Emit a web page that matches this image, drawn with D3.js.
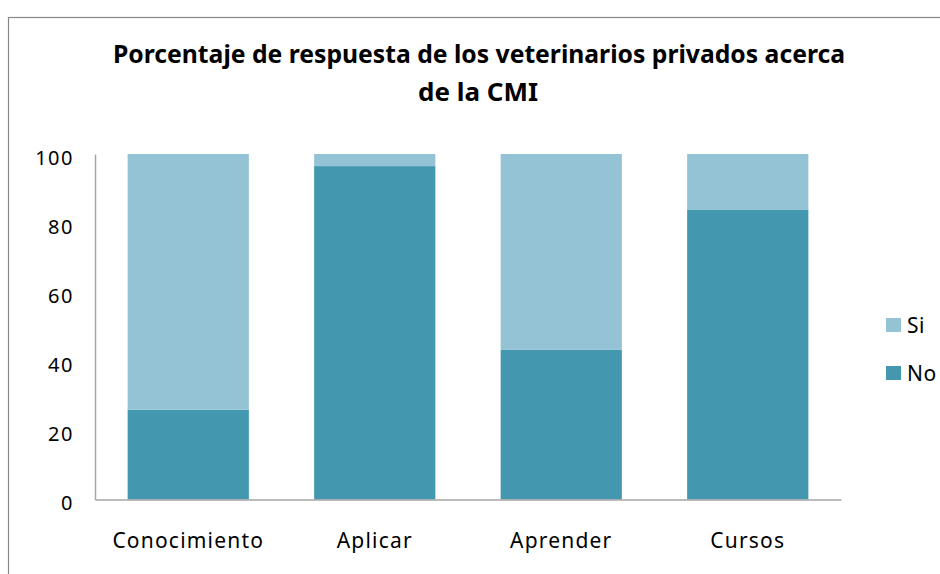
<!DOCTYPE html>
<html>
<head>
<meta charset="utf-8">
<script src="https://cdn.jsdelivr.net/npm/d3@7"></script>
<style>
  body { margin: 0; background: #fff; }
  svg text { font-family: "Noto Sans", "Open Sans", sans-serif; fill: #000; }
</style>
</head>
<body>
<div id="chart"></div>
<script>
// Data
const categories = ["Conocimiento", "Aplicar", "Aprender", "Cursos"];
const noValues = [26, 96.5, 43.3, 83.8];
const siValues = [74, 3.5, 56.7, 16.2];
const seriesNames = ["No", "Si"];
const yTicks = [0, 20, 40, 60, 80, 100];

const colors = { No: "#4398B0", Si: "#93C3D4" };

const W = 940, H = 574;
const margin = { top: 154, left: 95, right: 99, bottom: 74.5 };
const width = W - margin.left - margin.right;
const height = H - margin.top - margin.bottom;

const svg = d3.select("#chart").append("svg")
  .attr("width", W)
  .attr("height", H);

// outer border of the chart area (runs off the right and bottom edges)
svg.append("rect")
  .attr("x", 8.5).attr("y", 17.5)
  .attr("width", W).attr("height", H)
  .attr("fill", "none")
  .attr("stroke", "#888")
  .attr("stroke-width", 1.2);

// title, squeezed to the width of the original narrow font
const title = svg.append("text")
  .attr("text-anchor", "middle")
  .style("font-size", "25px")
  .style("font-weight", "bold");
title.append("tspan").attr("x", 479).attr("y", 63)
  .attr("textLength", 732).attr("lengthAdjust", "spacingAndGlyphs")
  .text("Porcentaje de respuesta de los veterinarios privados acerca");
title.append("tspan").attr("x", 478).attr("y", 101)
  .attr("textLength", 120).attr("lengthAdjust", "spacingAndGlyphs")
  .text("de la CMI");

const g = svg.append("g")
  .attr("transform", `translate(${margin.left},${margin.top})`);

const rows = categories.map((c, i) => ({ cat: c, No: noValues[i], Si: siValues[i] }));
const stacked = d3.stack().keys(seriesNames)(rows);

const x = d3.scaleBand()
  .domain(categories)
  .range([0, width])
  .paddingInner(0.35)
  .paddingOuter(0.175);

const y = d3.scaleLinear()
  .domain([0, 100])
  .range([height, 0]);

g.selectAll(".layer")
  .data(stacked)
  .enter().append("g")
  .attr("class", "layer")
  .attr("fill", d => colors[d.key])
  .selectAll("rect")
  .data(d => d)
  .enter().append("rect")
  .attr("x", d => x(d.data.cat))
  .attr("y", d => y(d[1]))
  .attr("width", x.bandwidth())
  .attr("height", d => y(d[0]) - y(d[1]));

// y axis
const yAxis = g.append("g")
  .call(d3.axisLeft(y).tickValues(yTicks).tickSize(0).tickPadding(21));
yAxis.select(".domain").attr("stroke", "#a6a6a6").attr("stroke-width", 1.5);
yAxis.selectAll("text")
  .attr("dy", "0.5em")
  .style("font-size", "20px")
  .style("letter-spacing", "1.5px");

// x axis
const xAxis = g.append("g")
  .attr("transform", `translate(0,${height})`)
  .call(d3.axisBottom(x).tickSize(0).tickPadding(34));
xAxis.select(".domain").attr("stroke", "#a6a6a6").attr("stroke-width", 1.5);
xAxis.selectAll("text")
  .style("font-size", "21px")
  .style("letter-spacing", "1.2px");

// legend
const legend = svg.append("g").attr("transform", "translate(886,318)");
const legendItems = ["Si", "No"];
legendItems.forEach((k, i) => {
  const item = legend.append("g").attr("transform", `translate(0,${i * 48})`);
  item.append("rect").attr("width", 15).attr("height", 14).attr("fill", colors[k]);
  item.append("text").attr("x", 21).attr("y", 15)
    .style("font-size", "21px").style("letter-spacing", "0.5px").text(k);
});
</script>
</body>
</html>
